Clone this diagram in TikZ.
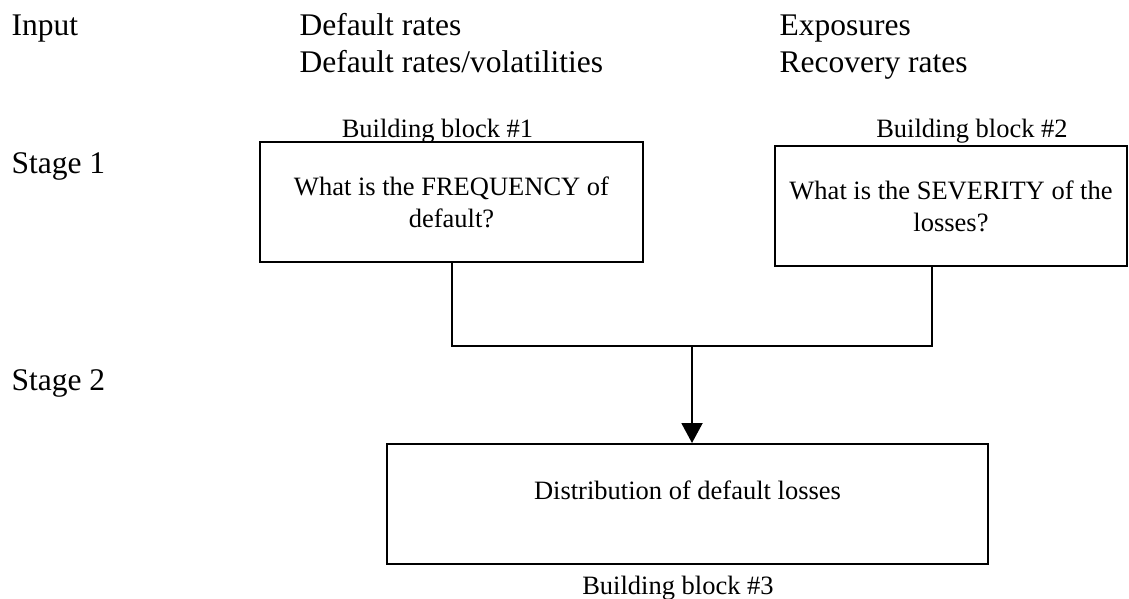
\documentclass[tikz,border=0pt]{standalone}
\usepackage{fontspec}
\setmainfont{Liberation Serif}
\usetikzlibrary{arrows.meta}
\tikzset{
  rowlabel/.style={anchor=base west, font=\fontsize{31.5}{37}\selectfont},
  blocklabel/.style={anchor=base, font=\fontsize{26.5}{32}\selectfont},
  blockbox/.style={draw, line width=2pt, align=center, inner sep=0pt, minimum height=120pt, font=\fontsize{26.5}{32}\selectfont},
}
\begin{document}
\begin{tikzpicture}[x=1pt, y=-1pt, >={Triangle[width=21pt,length=20pt]}]
			\useasboundingbox (0,0) rectangle (1129,598);
			% inputs and stages
			\node[rowlabel] (input) at (8,35) {Input};
			\node[rowlabel] (rates) at (296,35) {Default rates};
			\node[rowlabel] (vols) at (296,72) {Default rates/volatilities};
			\node[rowlabel] (expo) at (776,35) {Exposures};
			\node[rowlabel] (recov) at (776,72) {Recovery rates};
			\node[rowlabel] (stageA) at (8,173) {Stage 1};
			\node[rowlabel] (stageB) at (8,390) {Stage 2};
			% building blocks
			\node[blockbox, minimum width=383pt] (freq) at (451.5,202) {What is the FREQUENCY of\\default?};
			\node[blockbox, minimum width=352pt] (sev) at (951,206) {What is the SEVERITY of the\\losses?};
			\node[blockbox, minimum width=601pt, text depth=28pt] (dist) at (687.5,504) {Distribution of default losses};
			\node[blocklabel] (bbA) at (437.5,137) {Building block \#1};
			\node[blocklabel] (bbB) at (972,137) {Building block \#2};
			\node[blocklabel] (bbC) at (678,594) {Building block \#3};
			% connectors
			\coordinate (sevfoot) at ([xshift=-19pt]sev.south);
			\coordinate (join) at (692,346);
			\draw[line width=2pt] (freq.south) |- (sevfoot |- join) -- (sevfoot);
			\draw[->, line width=2pt] (join) -- (join |- dist.north);
		\end{tikzpicture}
\end{document}
